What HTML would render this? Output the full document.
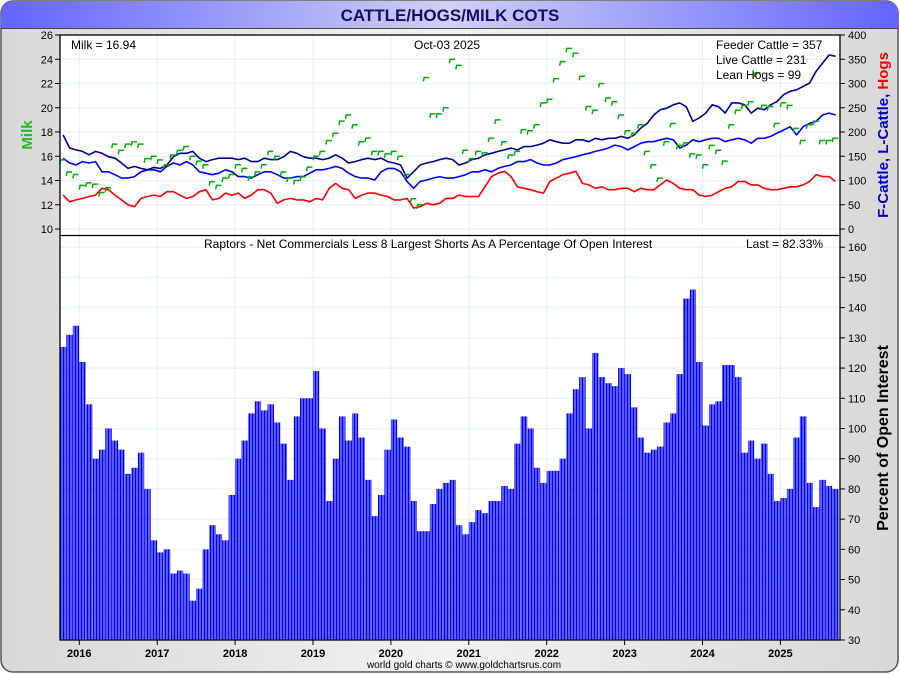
<!DOCTYPE html>
<html><head><meta charset="utf-8"><title>Cattle/Hogs/Milk COTS</title>
<style>
html,body{margin:0;padding:0;width:900px;height:675px;overflow:hidden;background:#fff;font-family:"Liberation Sans",sans-serif;}
svg{display:block}
</style></head>
<body>
<svg id="chart" width="900" height="675" viewBox="0 0 900 675">
<defs>
<linearGradient id="bgGrad" x1="0" x2="1" y1="0" y2="0">
<stop offset="0" stop-color="#d8d8d8"/><stop offset="0.5" stop-color="#f2f2f2"/><stop offset="1" stop-color="#d8d8d8"/>
</linearGradient>
<linearGradient id="titleGrad" x1="0" x2="1" y1="0" y2="0">
<stop offset="0" stop-color="#6464ff"/><stop offset="0.5" stop-color="#d0d0f8"/><stop offset="1" stop-color="#6464ff"/>
</linearGradient>
<pattern id="barStripe" width="1.5" height="10" patternUnits="userSpaceOnUse">
<rect x="0" y="0" width="1.15" height="10" fill="#0000ff"/>
</pattern>
</defs>
<rect x="1" y="1" width="897" height="671" rx="12" fill="url(#bgGrad)" stroke="#555" stroke-width="1.5"/>
<path d="M1,28 L1,13 Q1,1 13,1 L886,1 Q898,1 898,13 L898,28 Z" fill="url(#titleGrad)"/>
<line x1="1" y1="28.5" x2="898" y2="28.5" stroke="#444" stroke-width="1"/>
<text x="450" y="21" text-anchor="middle" font-size="17" font-weight="bold" fill="#10106a">CATTLE/HOGS/MILK COTS</text>
<rect x="60" y="35" width="780" height="605" fill="#fff"/>
<g id="grid"></g>
<g id="bars"></g>
<g id="lines"></g>
<g id="axes"></g>
<rect x="60" y="35" width="780" height="605" fill="none" stroke="#000" stroke-width="1.3"/>
<line x1="60" y1="235.5" x2="840" y2="235.5" stroke="#000" stroke-width="1.3"/>
<text x="71" y="49" font-size="12" fill="#000">Milk = 16.94</text>
<text x="414" y="49" font-size="12" fill="#000">Oct-03  2025</text>
<text x="716" y="49" font-size="12" fill="#000">Feeder Cattle = 357</text>
<text x="716" y="64" font-size="12" fill="#000">Live Cattle = 231</text>
<text x="716" y="79" font-size="12" fill="#000">Lean Hogs = 99</text>
<text x="204" y="248" font-size="12" fill="#000">Raptors - Net Commercials Less 8 Largest Shorts As A Percentage Of Open Interest</text>
<text x="746" y="248" font-size="12" fill="#000">Last = 82.33%</text>
<text transform="translate(32,135) rotate(-90)" text-anchor="middle" font-size="15" font-weight="bold" fill="#22bb22">Milk</text>
<text transform="translate(888,135) rotate(-90)" text-anchor="middle" font-size="15" font-weight="bold"><tspan fill="#0000cc">F-Cattle, L-Cattle, </tspan><tspan fill="#ff0000">Hogs</tspan></text>
<text transform="translate(888,438) rotate(-90)" text-anchor="middle" font-size="16" font-weight="bold" fill="#000">Percent of Open Interest</text>
<text x="464" y="668" text-anchor="middle" font-size="10" fill="#000">world gold charts © www.goldchartsrus.com</text>
</svg>
<script>
// Monthly data, Oct 2015 .. Sep 2025
const startYear = 2015.75;
const raptorsPct = [127,131,134,
122,108,90,93,100,96,93,85,87,92,80,63,
59,60,52,53,52,43,47,60,68,65,63,78,
90,96,105,109,106,108,102,95,83,104,110,110,
119,100,76,90,104,96,105,97,83,71,78,93,
103,97,94,76,66,66,75,80,82,83,68,65,
69,73,72,76,76,81,80,95,104,100,87,82,
86,86,90,105,113,117,100,125,117,115,114,120,
118,107,97,92,93,94,102,105,118,143,146,122,
101,108,109,121,121,117,92,96,90,95,85,76,
77,80,97,104,82,74,83,81,80];
const feederCattle = [194,167,163,
160,153,160,156,149,146,136,125,129,125,122,127,
125,132,149,156,156,160,146,139,143,146,146,146,
143,146,139,139,146,143,143,149,160,156,149,146,
146,143,146,153,146,136,139,143,146,143,146,139,
136,132,105,118,132,136,139,143,146,143,132,136,
143,146,153,156,160,163,167,163,170,170,173,177,
184,180,177,177,184,184,180,187,184,187,187,191,
187,194,208,218,235,246,249,256,260,252,222,229,
239,256,252,239,260,260,256,239,249,246,256,263,
277,284,287,294,301,325,342,359,356];
const liveCattle = [146,136,132,
139,136,139,118,118,112,105,105,108,118,122,122,
118,129,136,132,139,132,118,115,112,115,122,118,
108,108,105,112,118,118,112,105,105,108,108,115,
122,122,125,129,125,115,108,105,105,101,118,125,
125,118,98,84,98,101,105,108,105,105,108,112,
118,118,122,118,125,129,132,139,139,143,136,132,
132,136,143,146,149,153,156,160,163,167,173,170,
163,170,177,180,180,184,187,184,167,173,184,180,
184,187,187,180,184,187,184,177,187,187,191,198,
204,211,194,211,218,222,235,239,235];
const leanHogs = [70,56,60,
63,67,70,84,81,70,60,50,46,63,67,70,
67,77,77,70,63,67,77,81,60,63,74,70,
74,63,70,81,81,74,53,60,63,60,60,56,
63,60,84,94,84,81,63,70,74,74,70,67,
60,60,63,43,46,53,50,53,63,63,70,67,
67,67,87,108,115,119,108,87,84,81,77,74,
98,105,112,115,119,94,91,84,87,81,81,84,
84,77,84,81,81,91,101,94,84,81,81,70,
67,70,77,84,87,98,98,91,91,84,81,81,
84,87,87,91,98,112,108,108,98];
const milkPrice = [15.7,14.7,14.5,
13.6,13.8,13.7,13.0,13.4,17.0,16.5,17.0,17.2,17.0,15.8,16.0,
15.7,15.3,16.1,16.5,16.8,16.0,15.6,15.3,13.9,13.6,14.2,14.5,
15.3,15.0,14.3,14.7,15.3,16.4,16.0,14.7,14.2,14.0,14.3,15.1,
16.0,16.4,17.3,17.9,18.9,19.4,18.6,17.2,17.5,16.4,16.4,16.2,
16.4,16.0,14.5,12.5,12.0,22.5,19.5,19.5,20.0,24.0,23.5,16.5,
15.8,16.4,16.3,17.5,19.0,17.2,16.1,16.4,18.2,18.1,18.6,20.4,
20.7,22.4,23.8,24.9,24.5,22.6,20.1,19.8,22.0,20.8,20.5,19.4,
18.1,17.9,18.6,16.4,15.3,14.2,17.2,18.7,16.9,17.1,16.2,16.1,
15.3,16.9,16.5,15.6,18.6,19.8,20.2,20.5,22.9,20.2,20.1,18.7,
20.4,20.2,18.3,17.3,18.6,18.9,17.3,17.3,17.5];
const yearTicks = [2016,2017,2018,2019,2020,2021,2022,2023,2024,2025];
const milkTicks = [10,12,14,16,18,20,22,24,26];
const cattleTicks = [0,50,100,150,200,250,300,350,400];
const pctTicks = [30,40,50,60,70,80,90,100,110,120,130,140,150,160];

const NS = "http://www.w3.org/2000/svg";
function mk(tag, attrs, parent){const e=document.createElementNS(NS,tag);for(const k in attrs)e.setAttribute(k,attrs[k]);parent.appendChild(e);return e;}
const xT = t => 79.3 + (t - 2016) * 77.9;
const monthW = 77.9 / 12;
const yMilk = v => 35 + (26 - v) * 12.125;
const yCattle = v => 229 - v * 0.485;
const yPct = v => 640 - (v - 30) * 3.0215;

const grid = document.getElementById('grid');
const axes = document.getElementById('axes');
const bars = document.getElementById('bars');
const lines = document.getElementById('lines');

yearTicks.forEach(y => {
  const x = xT(y);
  mk('line',{x1:x,x2:x,y1:35,y2:640,stroke:'#e2eef8','stroke-width':1},grid);
  mk('line',{x1:x,x2:x,y1:640,y2:645,stroke:'#000','stroke-width':1},axes);
  const t = mk('text',{x:x,y:657,'text-anchor':'middle','font-size':11,'font-weight':'bold',fill:'#000'},axes);
  t.textContent = y;
  
  
});
milkTicks.forEach(v => {
  const y = yMilk(v);
  mk('line',{x1:60,x2:840,y1:y,y2:y,stroke:'#e2eef8','stroke-width':1},grid);
  mk('line',{x1:55,x2:60,y1:y,y2:y,stroke:'#000','stroke-width':1},axes);
  const t = mk('text',{x:53,y:y+4,'text-anchor':'end','font-size':11,fill:'#000'},axes);
  t.textContent = v;
  
  
});
cattleTicks.forEach(v => {
  const y = yCattle(v);
  mk('line',{x1:840,x2:845,y1:y,y2:y,stroke:'#000','stroke-width':1},axes);
  const t = mk('text',{x:848,y:y+4,'font-size':11,fill:'#000'},axes);
  t.textContent = v;
  
  
});
pctTicks.forEach(v => {
  const y = yPct(v);
  mk('line',{x1:60,x2:840,y1:y,y2:y,stroke:'#e2eef8','stroke-width':1},grid);
  mk('line',{x1:840,x2:845,y1:y,y2:y,stroke:'#000','stroke-width':1},axes);
  const t = mk('text',{x:848,y:y+4,'font-size':11,fill:'#000'},axes);
  t.textContent = v;
  
  
});

raptorsPct.forEach((v, i) => {
  const x0 = xT(startYear + i / 12);
  const y = yPct(v);
  const r = mk('rect',{x:x0,y:y,width:monthW,height:640 - y,fill:'url(#barStripe)'},bars);
  
  
});

function drawLine(arr, yf, color, name){
  const pts = arr.map((v,i) => xT(startYear + (i + 0.5) / 12).toFixed(1) + ',' + yf(v).toFixed(1)).join(' ');
  const p = mk('polyline',{points:pts,fill:'none',stroke:color,'stroke-width':1.6,'stroke-linejoin':'round'},lines);
  
  
}
drawLine(leanHogs, yCattle, '#ff0000', 'lean-hogs-line');
drawLine(liveCattle, yCattle, '#0000ff', 'live-cattle-line');
drawLine(feederCattle, yCattle, '#00009a', 'feeder-cattle-line');
milkPrice.forEach((v, i) => {
  const x0 = xT(startYear + i / 12);
  const y = yMilk(v);
  const s = mk('polyline',{points:`${x0},${y+4} ${x0+0.8},${y} ${x0+monthW*0.9},${y}`,fill:'none',stroke:'#00b000','stroke-width':1.5},lines);
  
  
});
</script>
</body></html>
